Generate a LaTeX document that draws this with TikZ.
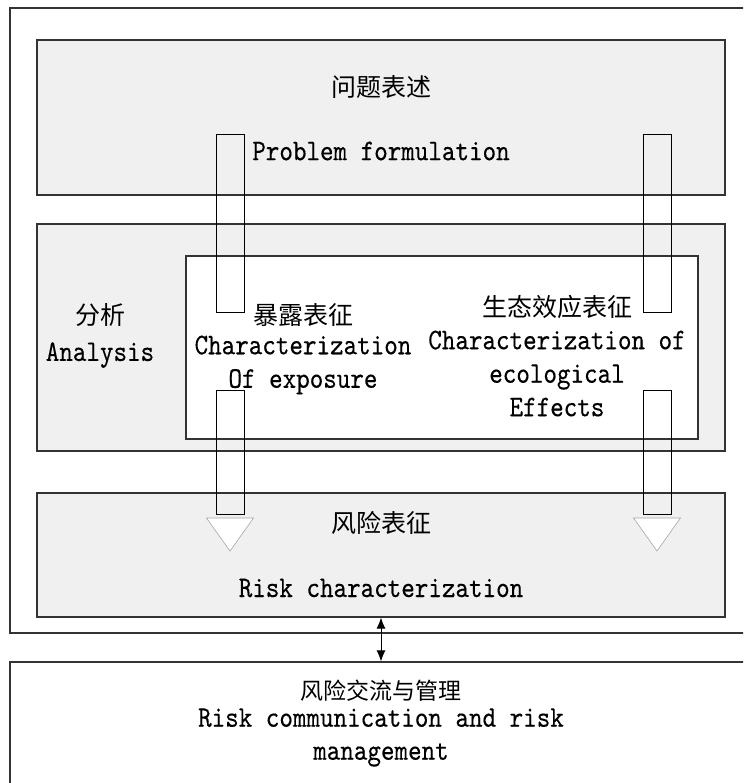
\documentclass[tikz,border=0pt]{standalone}
\usepackage{fontspec}
\setmonofont[FakeStretch=0.86,FakeBold=0.3]{lmmono10-regular.otf}
\newfontfamily\cjk{Noto Sans CJK SC}
\usetikzlibrary{positioning,arrows.meta}
\definecolor{boxgray}{HTML}{F0F0F0}
\definecolor{edgegray}{HTML}{333333}

\begin{document}
\begin{tikzpicture}[x=1pt,y=-1pt,
  stage box/.style={draw=edgegray,line width=1.1pt,fill=boxgray,minimum width=688pt,inner sep=0pt},
  plain box/.style={draw=edgegray,line width=1.1pt,fill=white,inner sep=0pt},
  zh/.style={font=\cjk\fontsize{25}{29}\selectfont,inner sep=0pt},
  en/.style={font=\ttfamily\fontsize{30}{33.5}\selectfont,inner sep=0pt,align=center},
  bar/.style={draw=black,line width=0.9pt},
  head/.style={draw=gray!70,fill=white,line width=0.6pt}]

  \clip (0,0) rectangle (743,783);
  \fill[white] (0,0) rectangle (743,783);

  % outer frame
  \draw[edgegray,line width=1.1pt] (10,8) rectangle (770,633);

  \node[stage box,minimum height=155pt] (1) at (381,117.5) {};
  \node[stage box,minimum height=227pt] (2) at (381,337.5) {};
  \node[plain box,minimum width=512pt,minimum height=183pt] (3) at (442,347.5) {};
  \node[stage box,minimum height=124pt] (4) at (381,555) {};
  \node[plain box,minimum width=760pt,minimum height=150pt] (5) at (390,737) {};

  \node[zh] (1a) at (381,87) {问题表述};
  \node[en] (1b) at (381,151) {Problem formulation};
  \node[zh] (2a) at (100,315) {分析};
  \node[en] (2b) at (100,355) {Analysis};
  \node[zh] (3a) at (303,315) {暴露表征};
  \node[en] (3b) at (303,365) {Characterization\\Of exposure};
  \node[zh] (3c) at (557,307) {生态效应表征};
  \node[en] (3d) at (557,373.5) {Characterization of\\ecological\\Effects};
  \node[zh] (4a) at (381,523) {风险表征};
  \node[en] (4b) at (381,588) {Risk characterization};
  \node[zh,font=\cjk\fontsize{23}{27}\selectfont] (5a) at (381,691) {风险交流与管理};
  \node[en,font=\ttfamily\fontsize{30}{33}\selectfont] (5b) at (381,737.5) {Risk communication and risk\\management};

  % hollow arrows
  \foreach \x in {230,657} {
    \draw[bar] ({\x-14},134) rectangle ({\x+14},312);
    \draw[bar] ({\x-14},390) rectangle ({\x+14},514);
    \draw[head] ({\x-23.5},518) -- ({\x+23.5},518) -- (\x,551) -- cycle;
  }

  \draw[{Latex[length=11pt,width=9pt]}-{Latex[length=11pt,width=9pt]},line width=1pt] (4.south) -- (4.south |- 5.north);
\end{tikzpicture}
\end{document}
